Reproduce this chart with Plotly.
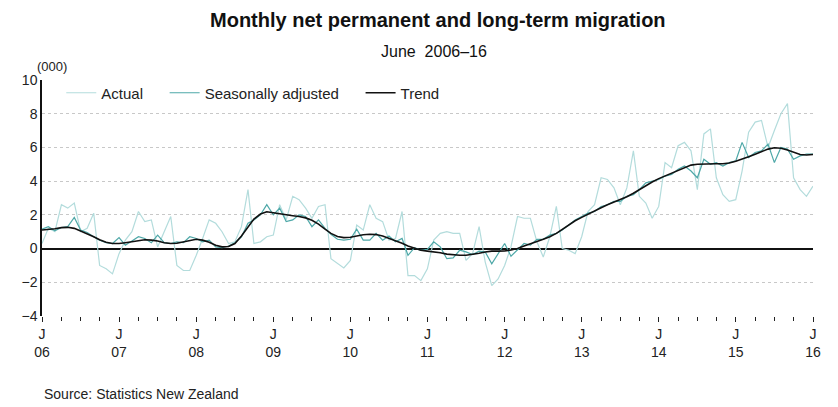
import pandas as pd
import plotly.graph_objects as go

# Months June 2006 .. June 2016
months = pd.date_range("2006-06-01", periods=121, freq="MS")

actual = [
    0.3, 1.2, 1.0, 2.6, 2.4, 2.7, 1.0, 1.2, 2.1, -1.0, -1.2, -1.5,
    -0.3, 0.5, 1.0, 2.2, 1.6, 1.7, 0.1, 1.0, 1.9, -1.0, -1.3, -1.3,
    -0.4, 0.6, 1.7, 1.5, 1.0, 0.3, 0.4, 1.3, 3.5, 0.3, 0.4, 0.7,
    0.8, 2.6, 1.7, 3.1, 2.9, 2.4, 1.8, 2.5, 2.6, -0.6, -0.9, -1.15,
    -0.7, 1.4, 1.1, 2.6, 1.8, 1.6, 0.5, 0.6, 2.2, -1.6, -1.6, -1.9,
    -1.2, 0.5, 0.9, 1.0, 0.9, 0.9, -0.7, -0.3, 1.3, -0.8, -2.2, -1.8,
    -1.0, 0.1, 1.9, 1.8, 1.8, 0.4, -0.5, 0.7, 2.5, 0.0, -0.1, -0.3,
    0.7, 2.2, 2.6, 4.2, 4.1, 3.6, 2.6, 3.6, 5.8, 3.1, 2.7, 1.8,
    2.5, 5.1, 4.8, 6.1, 6.3, 5.8, 3.5, 6.8, 7.1, 4.2, 3.2, 2.8,
    2.9, 4.6, 6.9, 7.5, 7.6, 6.0, 7.0, 8.0, 8.6, 4.2, 3.5, 3.1,
    3.7,
]

seasonally_adjusted = [
    1.15, 1.3, 1.05, 1.25, 1.3, 1.85, 1.1, 0.95, 0.7, 0.5, 0.35, 0.3,
    0.65, 0.2, 0.45, 0.7, 0.6, 0.35, 0.8, 0.35, 0.3, 0.4, 0.35, 0.7,
    0.6, 0.4, 0.5, 0.1, 0.05, 0.15, 0.35, 0.7, 1.5, 1.7, 2.0, 2.6,
    2.0, 2.4, 1.6, 1.7, 2.0, 1.9, 1.3, 1.7, 1.2, 0.85, 0.55, 0.5,
    0.55, 1.15, 0.5, 0.5, 0.9, 0.5, 0.75, 0.4, 0.6, -0.4, 0.05, -0.1,
    -0.05, 0.4, 0.1, -0.6, -0.55, -0.1, -0.2, -0.35, -0.15, -0.2, -0.9, -0.3,
    0.3, -0.45, -0.1, 0.3, 0.2, 0.55, 0.55, 0.8, 0.9, 1.1, 1.4, 1.7,
    1.9, 2.1, 2.2, 2.5, 2.6, 2.8, 2.8, 3.1, 3.2, 3.5, 3.9, 4.0,
    4.1, 4.3, 4.4, 4.7, 4.9, 4.6, 4.2, 5.3, 5.0, 5.1, 4.9, 5.1,
    5.2, 6.3, 5.4, 5.7, 5.8, 6.2, 5.1, 6.0, 5.9, 5.3, 5.5, 5.6,
    5.6,
]

trend = [
    1.10, 1.12, 1.18, 1.24, 1.26, 1.20, 1.05, 0.88, 0.70, 0.52, 0.38, 0.30,
    0.30, 0.35, 0.42, 0.48, 0.52, 0.50, 0.45, 0.35, 0.30, 0.32, 0.40, 0.50,
    0.55, 0.50, 0.38, 0.20, 0.10, 0.12, 0.30, 0.75, 1.30, 1.75, 2.05, 2.18,
    2.12, 2.05, 1.98, 1.95, 1.90, 1.82, 1.68, 1.45, 1.15, 0.90, 0.72, 0.65,
    0.67, 0.75, 0.82, 0.85, 0.83, 0.75, 0.62, 0.48, 0.32, 0.15, 0.00, -0.10,
    -0.15, -0.18, -0.25, -0.33, -0.38, -0.40, -0.40, -0.36, -0.28, -0.20, -0.15, -0.15,
    -0.14, -0.08, 0.00, 0.15, 0.30, 0.42, 0.55, 0.70, 0.90, 1.15, 1.40, 1.65,
    1.85, 2.05, 2.25, 2.42, 2.60, 2.75, 2.90, 3.08, 3.28, 3.50, 3.75, 3.95,
    4.15, 4.30, 4.45, 4.65, 4.80, 4.95, 5.00, 5.02, 5.03, 5.03, 5.03, 5.08,
    5.18, 5.30, 5.45, 5.60, 5.75, 5.90, 5.98, 5.95, 5.85, 5.70, 5.58, 5.55,
    5.58,
]

year_ticks = pd.date_range("2006-06-01", periods=11, freq="12MS")
year_labels = ["06", "07", "08", "09", "10", "11", "12", "13", "14", "15", "16"]
tick_text = ["J<br>" + y for y in year_labels]
y_ticks = [-4, -2, 0, 2, 4, 6, 8, 10]

FONT = "Liberation Sans, Arial, sans-serif"
NB = "\u00a0"

fig = go.Figure()
fig.add_trace(go.Scatter(x=months, y=actual, mode="lines",
                         name="Actual" + NB * 4,
                         line=dict(color="#b3dcdc", width=1.2)))
fig.add_trace(go.Scatter(x=months, y=seasonally_adjusted, mode="lines",
                         name="Seasonally adjusted" + NB * 4,
                         line=dict(color="#4ea8a8", width=1.2)))
fig.add_trace(go.Scatter(x=months, y=trend, mode="lines", name="Trend",
                         line=dict(color="#111111", width=1.6)))

fig.update_layout(
    width=830, height=399,
    margin=dict(l=34, r=25, t=72, b=91),
    paper_bgcolor="white", plot_bgcolor="white",
    font=dict(family=FONT, size=13, color="#222222"),
    showlegend=True,
    legend=dict(orientation="h", x=0.025, y=0.945, xanchor="left",
                yanchor="middle", bgcolor="rgba(0,0,0,0)",
                font=dict(size=15, color="#222222"), itemwidth=30,
                tracegroupgap=0),
    annotations=[
        dict(text="<b>Monthly net permanent and long-term migration</b>",
             x=0.514, y=1.254, xref="paper", yref="paper", showarrow=False,
             xanchor="center", yanchor="middle",
             font=dict(size=20, color="#111111")),
        dict(text="June  2006–16", x=0.508, y=1.119, xref="paper", yref="paper",
             showarrow=False, xanchor="center", yanchor="middle",
             font=dict(size=16, color="#111111")),
        dict(text="(000)", x=0.013, y=1.059, xref="paper", yref="paper",
             showarrow=False, xanchor="center", yanchor="middle",
             font=dict(size=13, color="#222222")),
        dict(text="Source: Statistics New Zealand", x=0.0, y=-0.33,
             xref="paper", yref="paper", showarrow=False, xanchor="left",
             yanchor="middle", font=dict(size=14, color="#222222")),
    ],
)

fig.update_xaxes(
    range=[months[0], months[-1]],
    tickmode="array", tickvals=year_ticks, ticktext=tick_text,
    ticks="outside", ticklen=5, tickcolor="#222222", tickwidth=1,
    minor=dict(ticks="outside", ticklen=4, tickcolor="#222222",
               dtick="M3", tick0="2006-06-01", showgrid=False),
    showgrid=False, showline=False, zeroline=False,
    tickfont=dict(size=14, color="#222222"),
)
fig.update_yaxes(
    range=[-4, 10], tickmode="array", tickvals=y_ticks,
    showgrid=True, gridcolor="#c8c8c8", griddash="dot", gridwidth=1,
    zeroline=True, zerolinecolor="#111111", zerolinewidth=1.5,
    showline=True, linecolor="#111111", linewidth=1.5,
    ticks="", tickfont=dict(size=14, color="#222222"),
)

fig.write_html("out.html")
